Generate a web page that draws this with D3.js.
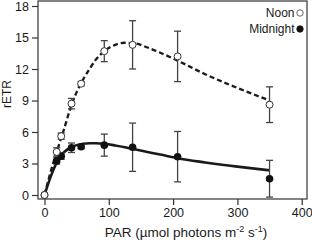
<!DOCTYPE html>
<html><head><meta charset="utf-8">
<script src="https://cdn.jsdelivr.net/npm/d3@7"></script>
<style>html,body{margin:0;padding:0;background:#fff;}svg{display:block;font-family:"Liberation Sans",Arial,sans-serif;}</style>
</head><body><svg id="c" width="312" height="240"></svg>
<script>
const par = [0, 19, 26, 42, 57, 93, 137, 207, 350];
const noonMean = [0, 4.1, 5.6, 8.7, 10.6, 13.7, 14.3, 13.2, 8.6];
const noonErr = [0, 0.4, 0.3, 0.5, 0.2, 1.0, 2.3, 2.4, 1.7];
const midMean = [0, 3.25, 3.7, 4.5, 4.6, 4.75, 4.55, 3.65, 1.55];
const midErr = [0, 0.3, 0.3, 0.45, 0.2, 1.05, 2.3, 2.4, 1.75];
const fitPar = [0, 10, 20, 30, 40, 50, 60, 70, 80, 93, 110, 125, 140, 160, 180, 207, 250, 300, 350];
const noonFit = [0, 2.3, 4.3, 6.2, 8.2, 9.8, 11.0, 12.0, 12.9, 13.7, 14.3, 14.5, 14.45, 14.05, 13.55, 12.8, 11.5, 10.2, 9.0];
const midFit = [0, 1.8, 3.2, 4.05, 4.5, 4.75, 4.88, 4.93, 4.93, 4.88, 4.72, 4.55, 4.35, 4.1, 3.85, 3.5, 3.1, 2.7, 2.35];
const xTicks = [0, 100, 200, 300, 400];
const yTicks = [0, 3, 6, 9, 12, 15, 18];
const legendLabels = ["Noon", "Midnight"];

const svg = d3.select("#c");
const box = {l: 38, r: 307, t: 1, b: 199};
const x = d3.scaleLinear().domain([0, 400]).range([44.5, 301.7]);
const y = d3.scaleLinear().domain([0, 18]).range([195, 6]);
const ink = "#1a1a1a";

// frame
svg.append("rect").attr("x", box.l).attr("y", box.t).attr("width", box.r - box.l).attr("height", box.b - box.t)
  .attr("fill", "none").attr("stroke", "#333").attr("stroke-width", 1.2);

// axes
const xAxis = svg.append("g").attr("transform", `translate(0,${box.b})`)
  .call(d3.axisBottom(x).tickValues(xTicks).tickSize(6).tickPadding(3));
const yAxis = svg.append("g").attr("transform", `translate(${box.l},0)`)
  .call(d3.axisLeft(y).tickValues(yTicks).tickSize(6).tickPadding(3));
[xAxis, yAxis].forEach(a => {
  a.select(".domain").remove();
  a.selectAll(".tick line").attr("stroke", "#333").attr("stroke-width", 1.2);
  a.selectAll(".tick text").attr("fill", ink).attr("font-size", "12.5px")
    .attr("font-family", "'Liberation Sans',Arial,sans-serif");
});

// axis titles
const xt = svg.append("text").attr("x", 186).attr("y", 237).attr("text-anchor", "middle")
  .attr("font-size", "13.5px").attr("fill", ink);
xt.append("tspan").text("PAR (µmol photons m");
xt.append("tspan").attr("font-size", "9px").attr("dy", -5).text("-2");
xt.append("tspan").attr("dy", 5).text(" s");
xt.append("tspan").attr("font-size", "9px").attr("dy", -5).text("-1");
xt.append("tspan").attr("dy", 5).text(")");

svg.append("text").attr("transform", "translate(11,94) rotate(-90)").attr("text-anchor", "middle")
  .attr("font-size", "12px").attr("fill", ink).text("rETR");

// fit lines
const pts = (xs, ys) => xs.map((v, i) => [v, ys[i]]);
const line = d3.line().x(d => x(d[0])).y(d => y(d[1])).curve(d3.curveMonotoneX);
svg.append("path").attr("d", line(pts(fitPar, noonFit))).attr("fill", "none")
  .attr("stroke", ink).attr("stroke-width", 2.3).attr("stroke-dasharray", "5,3");
svg.append("path").attr("d", line(pts(fitPar, midFit))).attr("fill", "none")
  .attr("stroke", ink).attr("stroke-width", 2.6);

// error bars
function errBars(means, errs) {
  const g = svg.append("g").attr("stroke", "#444").attr("stroke-width", 1.3);
  par.forEach((p, i) => {
    if (errs[i] <= 0) return;
    const cx = x(p), y1 = y(means[i] + errs[i]), y2 = y(means[i] - errs[i]);
    g.append("line").attr("x1", cx).attr("x2", cx).attr("y1", y1).attr("y2", y2);
    g.append("line").attr("x1", cx - 3.5).attr("x2", cx + 3.5).attr("y1", y1).attr("y2", y1);
    g.append("line").attr("x1", cx - 3.5).attr("x2", cx + 3.5).attr("y1", y2).attr("y2", y2);
  });
}
errBars(midMean, midErr);
errBars(noonMean, noonErr);

// markers
svg.append("g").selectAll("circle").data(pts(par, midMean)).join("circle")
  .attr("cx", d => x(d[0])).attr("cy", d => y(d[1])).attr("r", 3.8).attr("fill", "#111");
svg.append("g").selectAll("circle").data(pts(par, noonMean)).join("circle")
  .attr("cx", d => x(d[0])).attr("cy", d => y(d[1])).attr("r", 3.5)
  .attr("fill", "#fff").attr("stroke", "#333").attr("stroke-width", 1);

// legend
const lg = svg.append("g");
legendLabels.forEach((lab, i) => {
  const cy = 13 + i * 16;
  lg.append("text").attr("x", 294.5).attr("y", cy + 4.3).attr("text-anchor", "end")
    .attr("font-size", "12px").attr("fill", ink).text(lab);
  lg.append("circle").attr("cx", 300).attr("cy", cy).attr("r", 3.2)
    .attr("fill", i === 0 ? "#fff" : "#111").attr("stroke", i === 0 ? "#555" : "#111").attr("stroke-width", 0.9);
});
</script></body></html>
